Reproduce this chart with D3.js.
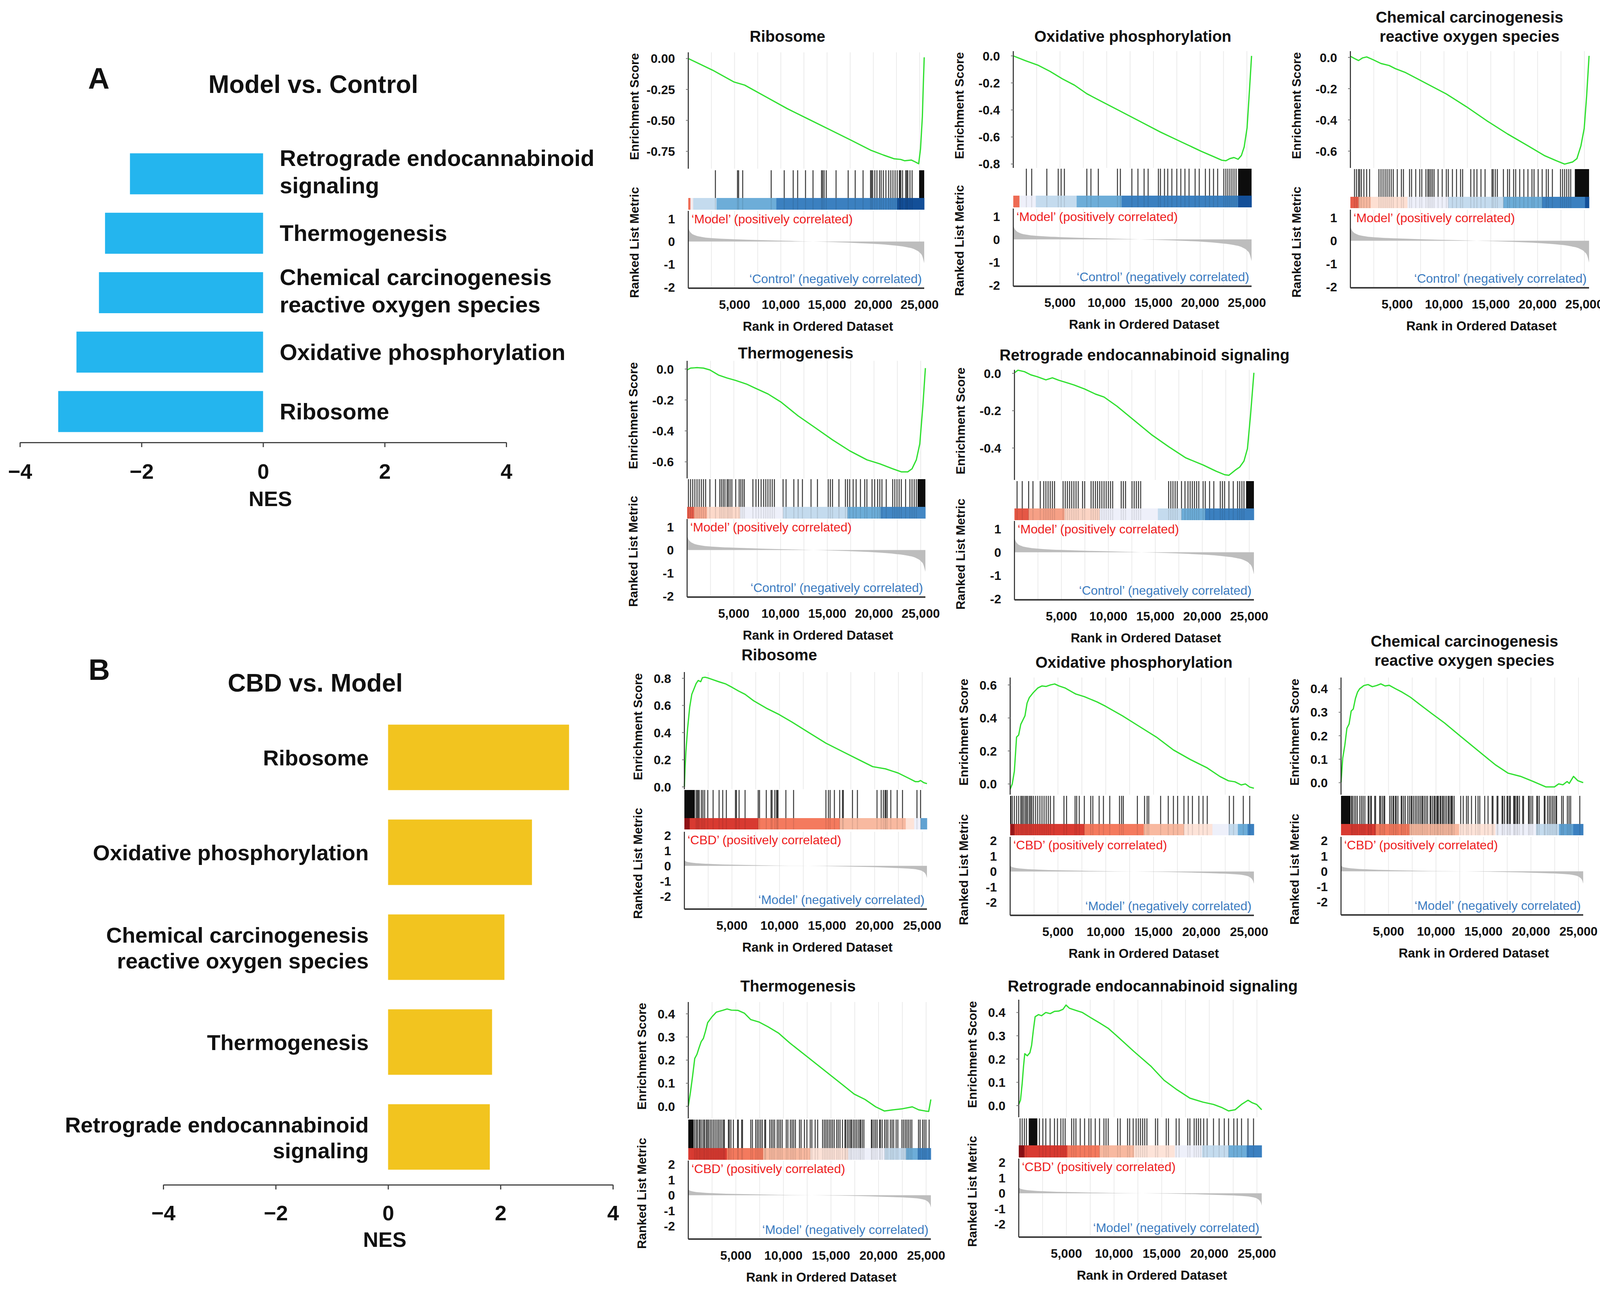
<!DOCTYPE html>
<html>
<head>
<meta charset="utf-8">
<script src="https://cdn.jsdelivr.net/npm/d3@7"></script>
<style>
  body { margin: 0; background: #fff; }
  svg { display: block; }
  text { font-family: "Liberation Sans", Arial, sans-serif; }
</style>
</head>
<body>
<svg id="fig" width="4131" height="3306"></svg>
<script>
// ---------------- data: NES bar charts ----------------
const nesTicks = [-4, -2, 0, 2, 4];

const pathwaysA = [["Retrograde endocannabinoid", "signaling"], ["Thermogenesis"],
  ["Chemical carcinogenesis", "reactive oxygen species"], ["Oxidative phosphorylation"], ["Ribosome"]];
const nesA = [-2.19, -2.60, -2.70, -3.07, -3.37];

const pathwaysB = [["Ribosome"], ["Oxidative phosphorylation"],
  ["Chemical carcinogenesis", "reactive oxygen species"], ["Thermogenesis"], ["Retrograde endocannabinoid", "signaling"]];
const nesB = [3.22, 2.56, 2.07, 1.85, 1.81];

// ---------------- data: GSEA plots ----------------
const rankMax = 25500;
const rankTicks = [5000, 10000, 15000, 20000, 25000];
const metTicksA = [1, 0, -1, -2];
const metTicksB = [2, 1, 0, -1, -2];

// ranked list metric [rank, value] (same list for every gene set of a comparison)
const metricA = [[0, 0.62], [100, 0.5], [300, 0.38], [700, 0.28], [1500, 0.2], [3000, 0.14], [5000, 0.1], [8000, 0.06],
  [11000, 0.03], [13500, 0.0], [16000, -0.03], [18500, -0.07], [20500, -0.11], [22000, -0.16], [23500, -0.24],
  [24500, -0.35], [25000, -0.48], [25300, -0.65], [25500, -0.95]];
const metricB = [[0, 0.38], [150, 0.3], [500, 0.24], [1500, 0.17], [3000, 0.12], [5000, 0.08], [8000, 0.04],
  [11000, 0.01], [13000, 0.0], [16000, -0.03], [19000, -0.07], [21500, -0.12], [23500, -0.18], [24600, -0.26],
  [25100, -0.38], [25400, -0.6], [25500, -0.8]];

// running enrichment score [rank, ES]
const esA_ribo = [[0, 0], [2650, -0.095], [4950, -0.19], [6100, -0.215], [8400, -0.31], [10700, -0.405], [13000, -0.49],
  [15300, -0.575], [17600, -0.66], [19700, -0.74], [21100, -0.78], [22250, -0.81], [22950, -0.815], [23400, -0.826],
  [24100, -0.82], [24550, -0.836], [24900, -0.85], [25100, -0.73], [25300, -0.47], [25400, -0.215], [25500, 0.01]];
const esA_oxphos = [[0, 0], [1310, -0.036], [2620, -0.068], [3940, -0.115], [5250, -0.17], [6560, -0.217], [7870, -0.28],
  [9190, -0.328], [11370, -0.406], [13560, -0.485], [15750, -0.564], [17930, -0.635], [20120, -0.706], [21430, -0.745],
  [22310, -0.772], [22750, -0.776], [23180, -0.76], [23620, -0.752], [24060, -0.765], [24410, -0.737], [24710, -0.674],
  [25020, -0.532], [25280, -0.249], [25500, 0]];
const esA_chem = [[0, 0.007], [440, -0.007], [870, -0.02], [1310, -0.003], [1740, 0.003], [2400, -0.014], [3270, -0.039],
  [4140, -0.052], [4800, -0.072], [5890, -0.097], [7190, -0.138], [8500, -0.179], [10250, -0.234], [12430, -0.317],
  [14610, -0.407], [16790, -0.49], [18970, -0.566], [20710, -0.628], [22020, -0.662], [22890, -0.683], [23760, -0.669],
  [24200, -0.648], [24630, -0.566], [24980, -0.455], [25240, -0.248], [25500, 0.01]];
const esA_thermo = [[0, -0.006], [370, 0.006], [1060, 0.009], [1750, 0.006], [2440, -0.006], [3360, -0.039], [4280, -0.058],
  [5200, -0.074], [6350, -0.097], [7270, -0.123], [8650, -0.161], [10030, -0.213], [11880, -0.303], [13720, -0.38],
  [15560, -0.458], [17400, -0.529], [19240, -0.587], [20620, -0.613], [22000, -0.645], [22920, -0.665], [23610, -0.665],
  [24070, -0.645], [24530, -0.587], [24900, -0.484], [25230, -0.239], [25500, 0.006]];
const esA_retro = [[0, 0.003], [370, 0.017], [1060, 0.009], [1740, -0.008], [2430, -0.018], [3350, -0.035], [4040, -0.024],
  [4720, -0.037], [5640, -0.051], [6330, -0.062], [7480, -0.084], [8620, -0.111], [9540, -0.127], [10920, -0.176],
  [12750, -0.252], [14580, -0.328], [16420, -0.393], [18250, -0.453], [20090, -0.491], [21460, -0.524], [22380, -0.543],
  [22840, -0.546], [23530, -0.518], [23990, -0.502], [24440, -0.47], [24810, -0.404], [25130, -0.23], [25500, 0.003]];

const esB_ribo = [[0, 0.0], [70, 0.133], [160, 0.259], [340, 0.431], [560, 0.588], [780, 0.682], [1010, 0.722], [1230, 0.761],
  [1450, 0.784], [1720, 0.775], [1900, 0.805], [2170, 0.808], [2460, 0.803], [3020, 0.789], [3690, 0.773], [4360, 0.758],
  [5030, 0.733], [5700, 0.706], [6380, 0.682], [7270, 0.635], [8610, 0.58], [9960, 0.533], [11300, 0.478], [13090, 0.4],
  [14880, 0.322], [16670, 0.259], [18460, 0.196], [19800, 0.149], [21140, 0.133], [22480, 0.102], [23600, 0.063],
  [24270, 0.039], [24610, 0.039], [24830, 0.047], [25170, 0.031], [25500, 0.024]];
const esB_oxphos = [[0, -0.032], [220, 0], [440, 0.077], [670, 0.284], [890, 0.297], [1110, 0.361], [1330, 0.387],
  [1550, 0.413], [1770, 0.49], [2000, 0.523], [2440, 0.555], [2880, 0.581], [3330, 0.594], [3770, 0.591], [4210, 0.6],
  [4660, 0.606], [5100, 0.594], [5770, 0.581], [6650, 0.552], [6870, 0.545], [7760, 0.529], [9090, 0.497], [9980, 0.471],
  [11750, 0.413], [13530, 0.348], [15300, 0.284], [17080, 0.206], [18850, 0.148], [20620, 0.097], [21950, 0.045],
  [22840, 0.019], [23510, 0.013], [24170, -0.006], [24610, 0], [25060, -0.019], [25500, -0.026]];
const esB_chem = [[0, 0.0], [180, 0.105], [400, 0.159], [620, 0.232], [850, 0.25], [1070, 0.305], [1290, 0.314],
  [1520, 0.359], [1740, 0.386], [1960, 0.4], [2410, 0.414], [2850, 0.418], [3300, 0.409], [3750, 0.414], [4190, 0.421],
  [4640, 0.412], [5080, 0.415], [5750, 0.4], [6420, 0.386], [7310, 0.364], [8200, 0.336], [9540, 0.295], [10880, 0.255],
  [12660, 0.195], [14440, 0.136], [16230, 0.077], [17570, 0.041], [18900, 0.027], [20240, 0.005], [21580, -0.018],
  [22470, -0.018], [22920, -0.005], [23360, -0.009], [23810, 0.005], [24030, -0.003], [24480, 0.027], [24920, 0.009],
  [25500, 0]];
const esB_thermo = [[0, 0.0], [230, 0.062], [450, 0.13], [680, 0.207], [910, 0.225], [1130, 0.253], [1360, 0.28],
  [1590, 0.294], [1810, 0.325], [2040, 0.362], [2490, 0.387], [2940, 0.407], [3620, 0.415], [4080, 0.421], [4530, 0.416],
  [5210, 0.415], [5890, 0.403], [6570, 0.375], [7470, 0.364], [8380, 0.344], [9510, 0.316], [10640, 0.275], [12460, 0.216],
  [14270, 0.157], [16080, 0.098], [17440, 0.053], [18570, 0.03], [19700, -0.002], [20610, -0.02], [21510, -0.015],
  [22420, -0.011], [23550, -0.002], [24230, -0.015], [24910, -0.02], [25270, -0.022], [25500, 0.03]];
const esB_retro = [[0, 0.005], [180, 0.023], [360, 0.095], [500, 0.168], [630, 0.223], [900, 0.214], [1170, 0.227],
  [1350, 0.259], [1530, 0.323], [1720, 0.382], [2080, 0.391], [2390, 0.386], [2840, 0.4], [3300, 0.395], [3750, 0.405],
  [4200, 0.406], [4650, 0.414], [4960, 0.432], [5330, 0.418], [6000, 0.409], [6680, 0.4], [7580, 0.377], [8490, 0.355],
  [9390, 0.332], [10520, 0.291], [12100, 0.232], [13900, 0.168], [15250, 0.109], [16610, 0.068], [17960, 0.032],
  [19320, 0.015], [20440, 0.005], [21350, -0.009], [22020, -0.023], [22700, -0.018], [23380, 0.005], [24060, 0.023],
  [24510, 0.012], [24960, 0.005], [25500, -0.018]];

// gene set hits (rank of each member), plus [from, to] ranges where hits merge into solid black
const hitsA_ribo = [2930, 5320, 5440, 5880, 8960, 10370, 11340, 11820, 12670, 13480, 14400, 14520, 14680, 14910, 15970,
  17280, 18040, 18890, 19700, 19810, 19930, 20160, 20390, 20670, 20850, 21080, 21360, 21660, 21890, 22120, 22350, 22580,
  22810, 22880, 22970, 23160, 23500, 23620, 23730, 23960, 24190];
const denseA_ribo = [[24950, 25500]];
const hitsA_oxphos = [1400, 1970, 3590, 4810, 5120, 5470, 7870, 8310, 9100, 11150, 11460, 12690, 13340, 14000, 14430,
  15530, 15750, 16180, 16530, 16970, 17500, 17930, 18370, 18810, 19460, 19900, 20560, 21000, 21430, 21870, 22530, 22750,
  22960, 23180, 23400, 23620, 23840];
const denseA_oxphos = [[24060, 25500]];
const hitsA_chem = [440, 650, 870, 1000, 1180, 1440, 1740, 2050, 3050, 3270, 3490, 3710, 3920, 4140, 4360, 4580, 5010,
  5450, 5670, 6320, 6540, 6980, 7410, 7630, 8070, 8280, 8420, 8590, 8760, 8940, 9370, 9810, 10250, 10460, 10900, 11340,
  11770, 11990, 12860, 13210, 13520, 13950, 14390, 15130, 15260, 15480, 15700, 16350, 16790, 17000, 17440, 17660, 18090,
  18530, 18970, 19400, 19620, 20060, 20490, 20930, 21150, 21580, 22450, 22670, 22890, 23110, 23330, 23540];
const denseA_chem = [[23980, 25500]];
const hitsA_thermo = [140, 370, 600, 830, 1060, 1290, 1520, 1750, 1980, 2440, 3040, 3500, 3680, 3870, 4050, 4280, 4420,
  4600, 4790, 5200, 5570, 5750, 5940, 6120, 7040, 7370, 7640, 7920, 8190, 8420, 8650, 8880, 9110, 9340, 10270, 10590,
  11420, 11880, 12340, 13260, 13950, 15100, 15330, 15560, 16250, 16940, 17170, 17400, 17770, 18090, 18550, 19010, 19240,
  19790, 20070, 20390, 20620, 20850, 21310, 22000, 22230, 22460, 22690, 22920, 23380, 23840, 24070, 24300, 24530];
const denseA_thermo = [[24670, 25500]];
const hitsA_retro = [280, 830, 1510, 1970, 2750, 3120, 3350, 3580, 3810, 4040, 4270, 5180, 5410, 5640, 5870, 6100, 6330,
  6560, 6790, 7250, 7480, 8160, 8390, 8620, 8850, 9080, 9310, 9540, 9770, 10000, 10230, 10460, 11370, 11600, 11830, 12520,
  12750, 12980, 13210, 13440, 16420, 16650, 16880, 17110, 17340, 17790, 18160, 18480, 18710, 18940, 19170, 19400, 19630,
  20090, 20320, 20780, 21230, 21920, 22150, 22380, 22840, 23300, 23760, 23990, 24220, 24440];
const denseA_retro = [[24670, 25500]];

const hitsB_ribo = [1230, 1350, 1450, 1560, 1790, 1950, 2130, 2460, 3020, 3650, 4030, 4410, 5370, 5480, 5750, 6380, 7760,
  7900, 8610, 9110, 9220, 9510, 9690, 9780, 9840, 10670, 11480, 14880, 15140, 15320, 15770, 16330, 16620, 16710, 17670,
  18190, 20250, 20690, 20920, 21100, 21180, 21320, 21700, 22370, 22930, 24450, 24830];
const denseB_ribo = [[0, 1100]];
const hitsB_oxphos = [220, 440, 670, 890, 1110, 1240, 1380, 1550, 1690, 1820, 2000, 2130, 2260, 2440, 2660, 2880, 3110,
  3330, 3550, 3770, 3990, 4210, 4570, 5630, 5900, 6790, 6960, 7230, 7760, 8430, 8650, 9310, 9760, 10420, 11440, 11660,
  11840, 13310, 14060, 14330, 14500, 15740, 16540, 17080, 17520, 18180, 18630, 19070, 19740, 20180, 20620, 22930, 23370,
  24390, 25060];
const denseB_oxphos = [[0, 120]];
const hitsB_chem = [1110, 1200, 1380, 1550, 1720, 1980, 2160, 2330, 2510, 2860, 2940, 3120, 3200, 3550, 3640, 4070, 4160,
  4340, 4510, 4600, 5120, 5290, 5470, 5550, 5730, 5810, 5990, 6340, 6420, 6600, 6770, 7030, 7210, 7380, 7470, 7640, 7820,
  7990, 8170, 8340, 8510, 8600, 8770, 8950, 9120, 9380, 9470, 9650, 9820, 9910, 10080, 10170, 10250, 10430, 10520, 10690,
  10780, 10950, 11120, 11300, 11390, 11560, 11650, 11730, 11910, 12600, 12870, 13210, 13390, 13740, 14170, 14430, 14610,
  15130, 15480, 15910, 16000, 16430, 16520, 16960, 17040, 17220, 17480, 17570, 17740, 17830, 18180, 18260, 18350, 18520,
  18610, 18790, 19130, 19220, 19740, 19830, 20000, 20180, 20610, 20700, 20870, 21400, 21480, 21740, 21920, 22090, 22270,
  22440, 22620, 22700, 23230, 23400, 23830, 24010, 24180, 25140];
const denseB_chem = [[0, 1000]];
const hitsB_thermo = [660, 830, 970, 1150, 1270, 1440, 1620, 1700, 1880, 2010, 2140, 2310, 2480, 2660, 2830, 3010, 3180,
  3350, 3530, 3700, 3790, 4220, 4310, 4480, 4740, 5180, 5260, 5610, 5700, 6570, 6740, 7090, 7260, 7430, 7610, 7780, 8040,
  8130, 8560, 8740, 8910, 9080, 9350, 9520, 9690, 9870, 10300, 10470, 10730, 10910, 11080, 11260, 11690, 11860, 12210,
  12470, 12820, 12990, 13340, 13600, 14120, 14300, 14470, 14640, 14820, 14990, 15160, 15340, 15600, 15770, 15950, 16210,
  16470, 16550, 16730, 16900, 17070, 17160, 17340, 17510, 17680, 17860, 18030, 18120, 18290, 18460, 19250, 19330, 19510,
  19680, 19850, 20110, 20200, 20380, 20640, 20810, 20980, 21240, 21420, 21590, 21850, 22030, 22460, 22630, 22810, 22980,
  23150, 23330, 23500, 24200, 24370, 24630, 24800, 24980, 25320];
const denseB_thermo = [[0, 560]];
const hitsB_retro = [140, 360, 590, 810, 2170, 2530, 2840, 3290, 3750, 4060, 4420, 4650, 4870, 5550, 5780, 6000, 6450,
  6910, 7360, 7580, 8030, 8480, 8940, 9160, 9390, 10380, 10650, 11420, 11640, 12010, 12320, 12550, 12770, 13000, 13220,
  13450, 14350, 14580, 15480, 15710, 16520, 16830, 17740, 17960, 18410, 18640, 18860, 19090, 19410, 19770, 20440, 21030,
  21570, 22020, 22570, 22930, 23380, 24060, 24640];
const denseB_retro = [[1050, 1950]];

// colour bar under the hits: [end rank, metric level]
const barA_ribo = [[230, 0.55], [530, 0], [3060, -0.25], [9520, -0.45], [22580, -0.65], [25500, -0.85]];
const barA_oxphos = [[660, 0.55], [2410, -0.05], [6780, -0.25], [11590, -0.45], [24060, -0.65], [25500, -0.85]];
const barA_chem = [[870, 0.6], [2180, 0.3], [6100, 0.12], [10460, -0.05], [16350, -0.25], [20490, -0.45], [25070, -0.65], [25500, -0.85]];
const barA_thermo = [[740, 0.6], [2120, 0.35], [5660, 0.15], [10270, -0.05], [17170, -0.25], [20710, -0.45], [25500, -0.62]];
const barA_retro = [[1510, 0.62], [5320, 0.38], [9080, 0.17], [15270, -0.05], [17790, -0.25], [20320, -0.45], [25500, -0.65]];
const barB_ribo = [[560, 0.95], [7760, 0.72], [16330, 0.5], [23270, 0.3], [24160, 0.1], [24830, -0.05], [25500, -0.5]];
const barB_oxphos = [[440, 0.9], [7760, 0.72], [13970, 0.5], [18180, 0.3], [21160, 0.1], [22840, -0.05], [23820, -0.25], [24840, -0.45], [25500, -0.65]];
const barB_chem = [[3640, 0.72], [7210, 0.5], [12430, 0.3], [16260, 0.1], [20530, -0.05], [22960, -0.25], [24440, -0.5], [25500, -0.65]];
const barB_thermo = [[4050, 0.72], [7870, 0.5], [12820, 0.3], [16810, 0.1], [20640, -0.05], [22890, -0.25], [24110, -0.45], [25500, -0.65]];
const barB_retro = [[590, 0.95], [5100, 0.72], [8480, 0.5], [12100, 0.3], [16380, 0.1], [19230, -0.05], [22020, -0.25], [23920, -0.45], [25500, -0.65]];

// ---------------- layout ----------------
const groupA = { metric: metricA, metDomain: [-2.05, 1.35], metTicks: metTicksA,
  pos: "\u2018Model\u2019 (positively correlated)", neg: "\u2018Control\u2019 (negatively correlated)", esLabelOff: 139 };
const groupB = { metric: metricB, metDomain: [-2.85, 2.25], metTicks: metTicksB,
  pos: "\u2018CBD\u2019 (positively correlated)", neg: "\u2018Model\u2019 (negatively correlated)", esLabelOff: 120 };

const panels = [
  { grp: groupA, title: ["Ribosome"], tx: 2016, ty: 93, x0: 1762, x1: 2366, esTop: 134, esBot: 432, hitTop: 436, barTop: 507, barBot: 537, metTop: 540, metBot: 738,
    esDomain: [-0.89, 0.05], esTicks: [0, -0.25, -0.5, -0.75], dec: 2, es: esA_ribo, hits: hitsA_ribo, dense: denseA_ribo, bar: barA_ribo },
  { grp: groupA, title: ["Oxidative phosphorylation"], tx: 2900, ty: 93, x0: 2594, x1: 3204, esTop: 131, esBot: 430, hitTop: 432, barTop: 501, barBot: 531, metTop: 534, metBot: 733,
    esDomain: [-0.829, 0.035], esTicks: [0, -0.2, -0.4, -0.6, -0.8], dec: 1, es: esA_oxphos, hits: hitsA_oxphos, dense: denseA_oxphos, bar: barA_oxphos },
  { grp: groupA, title: ["Chemical carcinogenesis", "reactive oxygen species"], tx: 3762, ty: 93, x0: 3457, x1: 4068, esTop: 131, esBot: 430, hitTop: 433, barTop: 504, barBot: 533, metTop: 537, metBot: 737,
    esDomain: [-0.7075, 0.04], esTicks: [0, -0.2, -0.4, -0.6], dec: 1, es: esA_chem, hits: hitsA_chem, dense: denseA_chem, bar: barA_chem },
  { grp: groupA, title: ["Thermogenesis"], tx: 2037, ty: 904, x0: 1759, x1: 2369, esTop: 924, esBot: 1225, hitTop: 1227, barTop: 1298, barBot: 1328, metTop: 1329, metBot: 1529,
    esDomain: [-0.707, 0.053], esTicks: [0, -0.2, -0.4, -0.6], dec: 1, es: esA_thermo, hits: hitsA_thermo, dense: denseA_thermo, bar: barA_thermo },
  { grp: groupA, title: ["Retrograde endocannabinoid signaling"], tx: 2930, ty: 909, x0: 2597, x1: 3210, esTop: 947, esBot: 1229, hitTop: 1232, barTop: 1302, barBot: 1332, metTop: 1334, metBot: 1536,
    esDomain: [-0.571, 0.019], esTicks: [0, -0.2, -0.4], dec: 1, es: esA_retro, hits: hitsA_retro, dense: denseA_retro, bar: barA_retro },
  { grp: groupB, title: ["Ribosome"], tx: 1995, ty: 1677, x0: 1752, x1: 2373, esTop: 1721, esBot: 2021, hitTop: 2023, barTop: 2095, barBot: 2124, metTop: 2130, metBot: 2328,
    esDomain: [-0.017, 0.846], esTicks: [0, 0.2, 0.4, 0.6, 0.8], dec: 1, es: esB_ribo, hits: hitsB_ribo, dense: denseB_ribo, bar: barB_ribo },
  { grp: groupB, title: ["Oxidative phosphorylation"], tx: 2903, ty: 1696, x0: 2586, x1: 3210, esTop: 1735, esBot: 2035, hitTop: 2038, barTop: 2110, barBot: 2139, metTop: 2143, metBot: 2344,
    esDomain: [-0.065, 0.645], esTicks: [0, 0.2, 0.4, 0.6], dec: 1, es: esB_oxphos, hits: hitsB_oxphos, dense: denseB_oxphos, bar: barB_oxphos },
  { grp: groupB, title: ["Chemical carcinogenesis", "reactive oxygen species"], tx: 3749, ty: 1691, x0: 3433, x1: 4053, esTop: 1735, esBot: 2035, hitTop: 2038, barTop: 2110, barBot: 2139, metTop: 2143, metBot: 2343,
    esDomain: [-0.051, 0.448], esTicks: [0, 0.1, 0.2, 0.3, 0.4], dec: 1, es: esB_chem, hits: hitsB_chem, dense: denseB_chem, bar: barB_chem },
  { grp: groupB, title: ["Thermogenesis"], tx: 2043, ty: 2525, x0: 1762, x1: 2383, esTop: 2566, esBot: 2864, hitTop: 2867, barTop: 2940, barBot: 2970, metTop: 2972, metBot: 3173,
    esDomain: [-0.052, 0.451], esTicks: [0, 0.1, 0.2, 0.3, 0.4], dec: 1, es: esB_thermo, hits: hitsB_thermo, dense: denseB_thermo, bar: barB_thermo },
  { grp: groupB, title: ["Retrograde endocannabinoid signaling"], tx: 2951, ty: 2525, x0: 2608, x1: 3230, esTop: 2560, esBot: 2861, hitTop: 2864, barTop: 2933, barBot: 2964, metTop: 2967, metBot: 3168,
    esDomain: [-0.05, 0.455], esTicks: [0, 0.1, 0.2, 0.3, 0.4], dec: 1, es: esB_retro, hits: hitsB_retro, dense: denseB_retro, bar: barB_retro }
];

const svg = d3.select("#fig");
svg.append("rect").attr("width", 4131).attr("height", 3306).attr("fill", "#fff");

// heat colours for the ranked-list bar
const levelColor = d3.scaleLinear()
  .domain([-0.85, -0.65, -0.45, -0.25, -0.05, 0.1, 0.3, 0.5, 0.72, 0.95])
  .range(["#134f98", "#3b80c0", "#6dadd8", "#c4dbee", "#eef0fa", "#fde3d8", "#f8b9a0", "#f47a5e", "#d83a31", "#8e1015"])
  .clamp(true);

// ---------------- NES bar charts ----------------
function drawBars(o) {
  const keys = o.labels.map(l => l.join(" "));
  const x = d3.scaleLinear().domain([-4, 4]).range([o.left, o.right]);
  const y = d3.scaleBand().domain(keys).range([o.top, o.bottom]).paddingInner(0.31).paddingOuter(0.155);
  const g = svg.append("g");

  g.selectAll("rect.bar").data(o.values).join("rect")
    .attr("class", "bar")
    .attr("x", d => x(Math.min(0, d)))
    .attr("width", d => Math.abs(x(d) - x(0)))
    .attr("y", (d, i) => y(keys[i]))
    .attr("height", y.bandwidth())
    .attr("fill", o.color);

  o.labels.forEach((lines, i) => {
    const cy = y(keys[i]) + y.bandwidth() / 2;
    const offs = lines.length == 1 ? [o.single] : o.double;
    const t = g.append("text").attr("font-size", o.labelSize).attr("font-weight", "bold")
      .attr("text-anchor", o.anchor).attr("fill", "#111");
    lines.forEach((line, j) => t.append("tspan").attr("x", o.labelX).attr("y", cy + offs[j]).text(line));
  });

  const ax = g.append("g").attr("transform", `translate(0,${o.axisY})`)
    .call(d3.axisBottom(x).tickValues(nesTicks).tickSize(12).tickSizeOuter(0).tickPadding(o.pad));
  ax.attr("font-family", null);
  ax.select(".domain").attr("stroke", "#444").attr("stroke-width", 3);
  ax.selectAll(".tick line").attr("stroke", "#444").attr("stroke-width", 3);
  ax.selectAll(".tick text").attr("font-size", 54).attr("font-weight", "bold").attr("fill", "#111");

  g.append("text").attr("x", o.nesX).attr("y", o.nesY).attr("text-anchor", "middle")
    .attr("font-size", 54).attr("font-weight", "bold").attr("fill", "#111").text("NES");
  g.append("text").attr("x", o.titleX).attr("y", o.titleY).attr("text-anchor", "middle")
    .attr("font-size", 64).attr("font-weight", "bold").attr("fill", "#111").text(o.title);
  g.append("text").attr("x", o.letterX).attr("y", o.letterY).attr("text-anchor", "middle")
    .attr("font-size", 76).attr("font-weight", "bold").attr("fill", "#111").text(o.letter);
}

drawBars({ labels: pathwaysA, values: nesA, color: "#24b5ee", left: 51, right: 1296, top: 369, bottom: 1130,
  axisY: 1133, pad: 43, labelX: 716, anchor: "start", labelSize: 58, single: 20, double: [-20, 50],
  nesX: 692, nesY: 1296, title: "Model vs. Control", titleX: 802, titleY: 238, letter: "A", letterX: 253, letterY: 227 });
drawBars({ labels: pathwaysB, values: nesB, color: "#f2c41f", left: 418, right: 1569, top: 1818, bottom: 3033,
  axisY: 3034, pad: 41, labelX: 944, anchor: "end", labelSize: 56, single: 20, double: [-12, 54],
  nesX: 985, nesY: 3193, title: "CBD vs. Model", titleX: 807, titleY: 1771, letter: "B", letterX: 254, letterY: 1741 });

// ---------------- GSEA enrichment plots ----------------
function drawGsea(p) {
  const grp = p.grp;
  const x = d3.scaleLinear().domain([0, rankMax]).range([p.x0, p.x1]);
  const yEs = d3.scaleLinear().domain(p.esDomain).range([p.esBot, p.esTop]);
  const yMet = d3.scaleLinear().domain(grp.metDomain).range([p.metBot, p.metTop]);
  const g = svg.append("g");
  const mid = (p.x0 + p.x1) / 2;

  // faint vertical grid
  const grid = d3.range(2500, rankMax, 2500);
  [[p.esTop, p.esBot], [p.metTop, p.metBot]].forEach(([a, b]) => {
    g.selectAll(null).data(grid).join("line")
      .attr("x1", d => x(d)).attr("x2", d => x(d)).attr("y1", a).attr("y2", b)
      .attr("stroke", "#ebebeb").attr("stroke-width", 2);
  });

  // ranked list metric
  g.append("path").datum(grp.metric)
    .attr("d", d3.area().x(d => x(d[0])).y0(yMet(0)).y1(d => yMet(d[1])).curve(d3.curveMonotoneX))
    .attr("fill", "#bdbdbd");

  // enrichment score
  g.append("path").datum(p.es)
    .attr("d", d3.line().x(d => x(d[0])).y(d => yEs(d[1])))
    .attr("fill", "none").attr("stroke", "#2fe02f").attr("stroke-width", 3.2).attr("stroke-linejoin", "round");

  // colour bar
  const segs = p.bar.map((d, i) => ({ from: i ? p.bar[i - 1][0] : 0, to: d[0], level: d[1] }));
  g.selectAll(null).data(segs).join("rect")
    .attr("x", d => x(d.from)).attr("width", d => x(d.to) - x(d.from) + 0.5)
    .attr("y", p.barTop).attr("height", p.barBot - p.barTop)
    .attr("fill", d => levelColor(d.level));

  // hits (faint trace continues over the colour bar)
  g.selectAll(null).data(p.hits).join("line")
    .attr("x1", d => x(d)).attr("x2", d => x(d)).attr("y1", p.barTop).attr("y2", p.barBot)
    .attr("stroke", "#000").attr("stroke-opacity", 0.1).attr("stroke-width", 2.5);
  g.selectAll(null).data(p.hits).join("line")
    .attr("x1", d => x(d)).attr("x2", d => x(d)).attr("y1", p.hitTop).attr("y2", p.barTop)
    .attr("stroke", "#1c1c1c").attr("stroke-opacity", 0.85).attr("stroke-width", 2.6);
  g.selectAll(null).data(p.dense).join("rect")
    .attr("x", d => x(d[0])).attr("width", d => x(d[1]) - x(d[0]))
    .attr("y", p.hitTop).attr("height", p.barTop - p.hitTop).attr("fill", "#0d0d0d");

  // axes lines
  g.append("line").attr("x1", p.x0).attr("x2", p.x0).attr("y1", p.esTop).attr("y2", p.esBot)
    .attr("stroke", "#222").attr("stroke-width", 2.5);
  g.append("line").attr("x1", p.x0).attr("x2", p.x0).attr("y1", p.metTop).attr("y2", p.metBot)
    .attr("stroke", "#222").attr("stroke-width", 2.5);
  g.append("line").attr("x1", p.x0).attr("x2", p.x1).attr("y1", p.metBot).attr("y2", p.metBot)
    .attr("stroke", "#3a3a3a").attr("stroke-width", 4);

  const txt = (sel) => sel.attr("fill", "#111").attr("font-weight", "bold");

  // y ticks
  g.selectAll(null).data(p.esTicks).join("text")
    .attr("x", p.x0 - 34).attr("y", d => yEs(d)).attr("dy", "0.36em").attr("text-anchor", "end")
    .attr("font-size", 32).text(d => d.toFixed(p.dec)).call(txt);
  g.selectAll(null).data(grp.metTicks).join("text")
    .attr("x", p.x0 - 34).attr("y", d => yMet(d)).attr("dy", "0.36em").attr("text-anchor", "end")
    .attr("font-size", 32).text(d => String(d)).call(txt);
  g.selectAll(null).data(p.esTicks).join("line")
    .attr("x1", p.x0 - 6).attr("x2", p.x0).attr("y1", d => yEs(d)).attr("y2", d => yEs(d))
    .attr("stroke", "#777").attr("stroke-width", 2);

  // x ticks
  g.selectAll(null).data(rankTicks).join("text")
    .attr("x", d => x(d)).attr("y", p.metBot + 41).attr("dy", "0.36em").attr("text-anchor", "middle")
    .attr("font-size", 32).text(d => d3.format(",")(d)).call(txt);
  g.append("text").attr("x", mid + 30).attr("y", p.metBot + 97).attr("dy", "0.36em").attr("text-anchor", "middle")
    .attr("font-size", 33).text("Rank in Ordered Dataset").call(txt);

  // axis titles
  const esMid = (p.esTop + p.esBot) / 2 - 10;
  g.append("text").attr("transform", `translate(${p.x0 - grp.esLabelOff},${esMid}) rotate(-90)`)
    .attr("dy", "0.36em").attr("text-anchor", "middle").attr("font-size", 32).text("Enrichment Score").call(txt);
  g.append("text").attr("transform", `translate(${p.x0 - grp.esLabelOff},${p.metBot - 117}) rotate(-90)`)
    .attr("dy", "0.36em").attr("text-anchor", "middle").attr("font-size", 32).text("Ranked List Metric").call(txt);

  // phenotype labels
  g.append("text").attr("x", p.x0 + 8).attr("y", p.metTop + 20).attr("dy", "0.36em")
    .attr("font-size", 32).attr("fill", "#ee1c1c").text(grp.pos);
  g.append("text").attr("x", p.x1 - 6).attr("y", p.metBot - 25).attr("dy", "0.36em").attr("text-anchor", "end")
    .attr("font-size", 32).attr("fill", "#3b7bc0").text(grp.neg);

  // title
  p.title.forEach((line, j) => {
    g.append("text").attr("x", p.tx).attr("y", p.ty - (p.title.length - 1 - j) * 49).attr("dy", "0.36em")
      .attr("text-anchor", "middle").attr("font-size", 40).text(line).call(txt);
  });
}

panels.forEach(drawGsea);
</script>
</body>
</html>
